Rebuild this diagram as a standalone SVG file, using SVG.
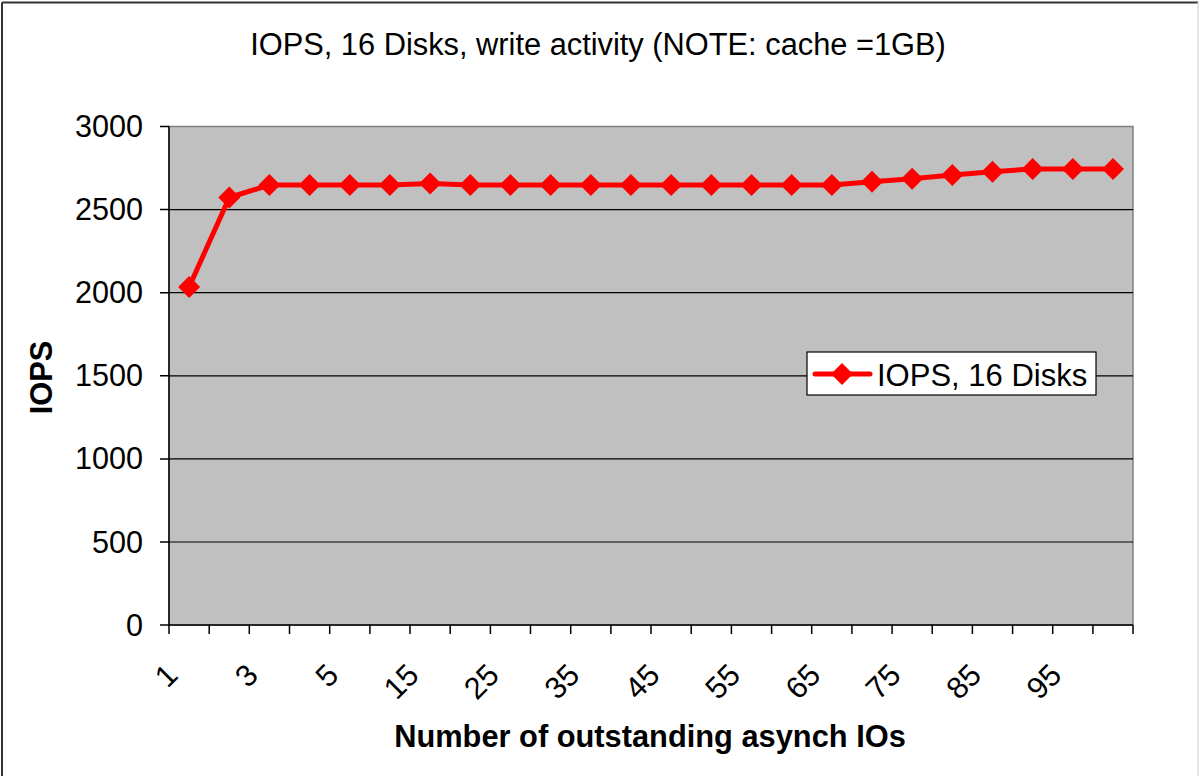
<svg xmlns="http://www.w3.org/2000/svg" width="1199" height="776" viewBox="0 0 1199 776">
<style>
text{font-family:"Liberation Sans",Arial,sans-serif;fill:#000}
.t{font-size:30.8px}
.b{font-size:30.8px;font-weight:bold}
.ytl{font-size:30.6px;text-anchor:end}
.xtl{font-size:30.6px;text-anchor:end}
.grid{stroke:#000;stroke-width:1.2}
.tick{stroke:#000;stroke-width:1.5}
.ser{fill:none;stroke:#FF0000;stroke-width:5;stroke-linejoin:round}
.mk{fill:#FF0000}
</style>
<defs>
<path id="dm" d="M0,-11 L11,0 L0,11 L-11,0 Z" class="mk"/>
</defs>
<rect x="0" y="0" width="1199" height="776" fill="#fff"/>
<g id="frame">
<line x1="2" y1="2.5" x2="2" y2="776" stroke="#333" stroke-width="2"/>
<line x1="2" y1="2.5" x2="1198" y2="2.5" stroke="#333" stroke-width="2"/>
<line x1="1198" y1="2.5" x2="1198" y2="776" stroke="#ddd" stroke-width="1.5"/>
</g>
<g id="title"><text class="t" x="598" y="55" text-anchor="middle">IOPS, 16 Disks, write activity (NOTE: cache =1GB)</text></g>
<g id="plot">
<rect x="169" y="126.5" width="964" height="498.5" fill="#C0C0C0" stroke="#808080" stroke-width="1.5"/>
<line class="grid" x1="169" y1="209.6" x2="1133" y2="209.6"/>
<line class="grid" x1="169" y1="292.7" x2="1133" y2="292.7"/>
<line class="grid" x1="169" y1="375.8" x2="1133" y2="375.8"/>
<line class="grid" x1="169" y1="458.9" x2="1133" y2="458.9"/>
<line class="grid" x1="169" y1="542" x2="1133" y2="542"/>
</g>
<g id="axes">
<line class="tick" x1="169" y1="126.5" x2="169" y2="625"/>
<line class="tick" x1="160" y1="625" x2="1133" y2="625"/>
<path class="tick" d="M160,126.5H169M160,209.6H169M160,292.7H169M160,375.8H169M160,458.9H169M160,542H169"/>
<path class="tick" d="M169,625V634M209.2,625V634M249.3,625V634M289.5,625V634M329.7,625V634M369.9,625V634M410,625V634M450.2,625V634M490.4,625V634M530.5,625V634M570.7,625V634M610.9,625V634M651,625V634M691.2,625V634M731.4,625V634M771.6,625V634M811.7,625V634M851.9,625V634M892.1,625V634M932.2,625V634M972.4,625V634M1012.6,625V634M1052.7,625V634M1092.9,625V634M1133,625V634"/>
<text class="ytl" x="143" y="137">3000</text>
<text class="ytl" x="143" y="220.1">2500</text>
<text class="ytl" x="143" y="303.2">2000</text>
<text class="ytl" x="143" y="386.3">1500</text>
<text class="ytl" x="143" y="469.4">1000</text>
<text class="ytl" x="143" y="552.5">500</text>
<text class="ytl" x="143" y="635.5">0</text>
<text class="xtl" transform="translate(179.6,677) rotate(-45)">1</text>
<text class="xtl" transform="translate(259.9,677) rotate(-45)">3</text>
<text class="xtl" transform="translate(340.3,677) rotate(-45)">5</text>
<text class="xtl" transform="translate(420.6,677) rotate(-45)">15</text>
<text class="xtl" transform="translate(500.9,677) rotate(-45)">25</text>
<text class="xtl" transform="translate(581.3,677) rotate(-45)">35</text>
<text class="xtl" transform="translate(661.6,677) rotate(-45)">45</text>
<text class="xtl" transform="translate(742,677) rotate(-45)">55</text>
<text class="xtl" transform="translate(822.3,677) rotate(-45)">65</text>
<text class="xtl" transform="translate(902.6,677) rotate(-45)">75</text>
<text class="xtl" transform="translate(983,677) rotate(-45)">85</text>
<text class="xtl" transform="translate(1063.3,677) rotate(-45)">95</text>
<text class="b" x="650" y="747" text-anchor="middle">Number of outstanding asynch IOs</text>
<text class="b" transform="translate(52,377.5) rotate(-90)" text-anchor="middle">IOPS</text>
</g>
<g id="series">
<polyline class="ser" points="189.1,287 229.3,197.5 269.4,185 309.6,185 349.8,185 389.9,185 430.1,183.5 470.3,185 510.4,185 550.6,185 590.8,185 630.9,185 671.1,185 711.3,185 751.5,185 791.6,185 831.8,185 872,181.7 912.1,178.7 952.3,175 992.5,171.7 1032.6,169 1072.8,169 1113,169"/>
<use href="#dm" x="189.1" y="287"/>
<use href="#dm" x="229.3" y="197.5"/>
<use href="#dm" x="269.4" y="185"/>
<use href="#dm" x="309.6" y="185"/>
<use href="#dm" x="349.8" y="185"/>
<use href="#dm" x="389.9" y="185"/>
<use href="#dm" x="430.1" y="183.5"/>
<use href="#dm" x="470.3" y="185"/>
<use href="#dm" x="510.4" y="185"/>
<use href="#dm" x="550.6" y="185"/>
<use href="#dm" x="590.8" y="185"/>
<use href="#dm" x="630.9" y="185"/>
<use href="#dm" x="671.1" y="185"/>
<use href="#dm" x="711.3" y="185"/>
<use href="#dm" x="751.5" y="185"/>
<use href="#dm" x="791.6" y="185"/>
<use href="#dm" x="831.8" y="185"/>
<use href="#dm" x="872" y="181.7"/>
<use href="#dm" x="912.1" y="178.7"/>
<use href="#dm" x="952.3" y="175"/>
<use href="#dm" x="992.5" y="171.7"/>
<use href="#dm" x="1032.6" y="169"/>
<use href="#dm" x="1072.8" y="169"/>
<use href="#dm" x="1113" y="169"/>
</g>
<g id="legend">
<rect x="807" y="352" width="289" height="43" fill="#fff" stroke="#000" stroke-width="1.2"/>
<line x1="815" y1="374" x2="870" y2="374" stroke="#FF0000" stroke-width="5" stroke-linecap="round"/>
<use href="#dm" x="842" y="374"/>
<text class="t" x="877" y="386" style="font-size:31px">IOPS, 16 Disks</text>
</g>
</svg>
